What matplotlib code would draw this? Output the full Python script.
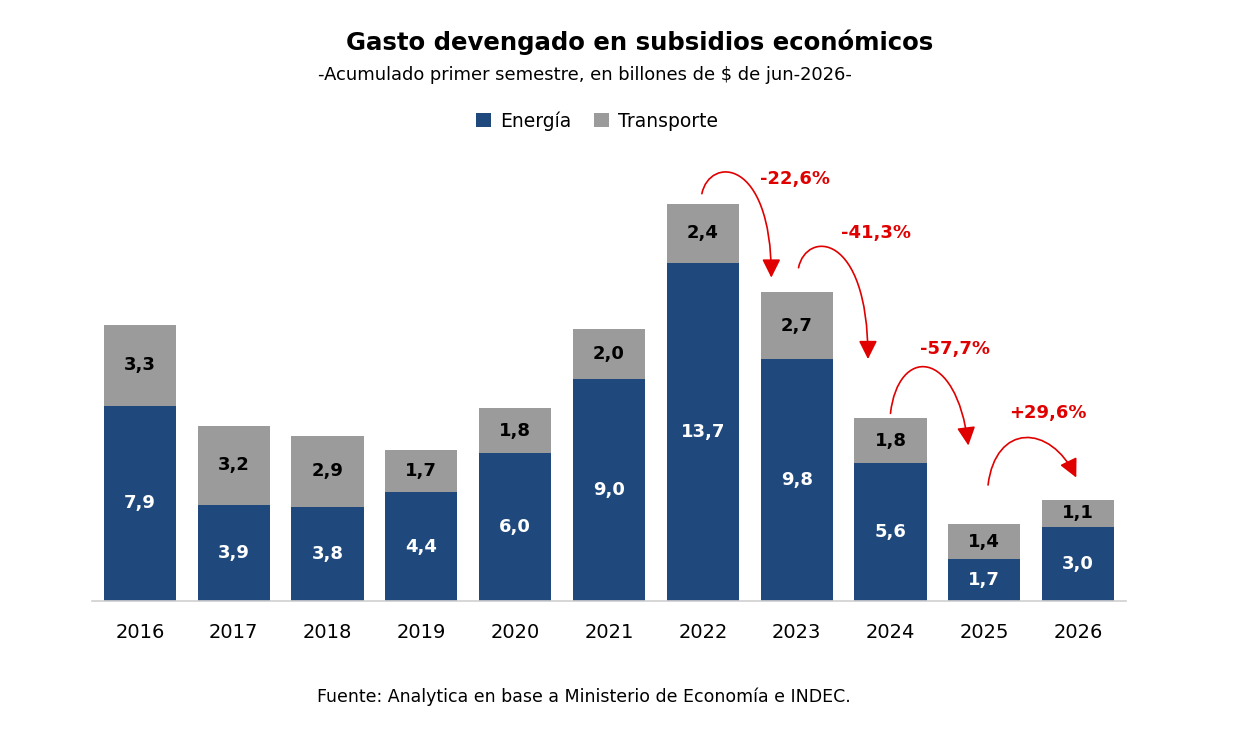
import numpy as np
import matplotlib.pyplot as plt
from matplotlib.path import Path
from matplotlib.patches import FancyArrowPatch

# --------------------------------------------------------------------------- #
#  Data                                                                        #
# --------------------------------------------------------------------------- #

years      = ["2016", "2017", "2018", "2019", "2020", "2021",
              "2022", "2023", "2024", "2025", "2026"]
energia    = [7.9, 3.9, 3.8, 4.4, 6.0, 9.0, 13.7, 9.8, 5.6, 1.7, 3.0]
transporte = [3.3, 3.2, 2.9, 1.7, 1.8, 2.0, 2.4, 2.7, 1.8, 1.4, 1.1]

# year-over-year variation labels
var_labels = ["-22,6%", "-41,3%", "-57,7%", "+29,6%"]

# curved arrows (data units): start, end, control height, x of 2nd control
arrow_from  = [(5.99, 16.5), (7.02, 13.5), (8.00, 7.6), (9.04, 4.7)]
arrow_to    = [(6.73, 13.1), (7.76, 9.8), (8.83, 6.3), (9.98, 5.0)]
arrow_ctrl  = [18.0, 15.0, 10.3, 7.2]
arrow_c2x   = [6.73, 7.76, 8.70, 9.70]
label_pos   = [(6.98, 17.1), (7.85, 14.9), (8.69, 10.2), (9.68, 7.6)]

C_ENERGIA = "#1F497D"
C_TRANSP  = "#9B9B9B"
C_RED     = "#E00000"

plt.rcParams["font.family"] = ["DejaVu Sans"]

# --------------------------------------------------------------------------- #
#  Figure                                                                      #
# --------------------------------------------------------------------------- #

fig = plt.figure(figsize=(12.42, 7.30), dpi=100)
ax = fig.add_axes([92 / 1242, 1 - 601 / 730, (1126 - 92) / 1242, 432 / 730])

x = np.arange(len(years))
w = 0.77
e = np.array(energia)
t = np.array(transporte)

ax.bar(x, e, width=w, color=C_ENERGIA, label="Energía", zorder=2)
ax.bar(x, t, width=w, bottom=e, color=C_TRANSP, label="Transporte", zorder=2)

for i in range(len(years)):
    ax.text(x[i], e[i] / 2, f"{e[i]:.1f}".replace(".", ","), ha="center",
            va="center", color="white", fontsize=13, fontweight="bold")
    ax.text(x[i], e[i] + t[i] / 2, f"{t[i]:.1f}".replace(".", ","),
            ha="center", va="center", color="black", fontsize=13,
            fontweight="bold")

for lab, p0, p1, c, c2x, lp in zip(var_labels, arrow_from, arrow_to,
                                   arrow_ctrl, arrow_c2x, label_pos):
    path = Path([p0, (p0[0] + 0.08, c), (c2x, c), p1],
                [Path.MOVETO, Path.CURVE4, Path.CURVE4, Path.CURVE4])
    arr = FancyArrowPatch(path=path, transform=ax.transData,
                          arrowstyle="-|>,head_length=0.8,head_width=0.4",
                          mutation_scale=14, color=C_RED, lw=1.2,
                          clip_on=False)
    ax.add_patch(arr)
    ax.text(lp[0], lp[1], lab, ha="center", va="center", color=C_RED,
            fontsize=13, fontweight="bold", clip_on=False)

ax.set_xlim(-0.51, 10.51)
ax.set_ylim(0, 17.5)
ax.set_xticks(x)
ax.set_xticklabels(years, fontsize=14)
ax.tick_params(axis="x", length=0, pad=16)
ax.set_yticks([])
for s in ["top", "right", "left"]:
    ax.spines[s].set_visible(False)
ax.spines["bottom"].set_color("#D0D0D0")
ax.spines["bottom"].set_linewidth(1.2)

fig.text(0.515, 1 - 42 / 730, "Gasto devengado en subsidios económicos",
         ha="center", va="center", fontsize=17.6, fontweight="bold")
fig.text(0.4706, 1 - 75 / 730,
         "-Acumulado primer semestre, en billones de $ de jun-2026-",
         ha="center", va="center", fontsize=12.9)
fig.text(0.47, 1 - 697 / 730,
         "Fuente: Analytica en base a Ministerio de Economía e INDEC.",
         ha="center", va="center", fontsize=12.5)

fig.legend(loc="center", bbox_to_anchor=(597 / 1242, 1 - 121 / 730), ncol=2,
           frameon=False, fontsize=13.5, handlelength=0.8, handleheight=0.8,
           columnspacing=1.2, handletextpad=0.5)

fig.savefig("out.png", dpi=100, facecolor="white")
